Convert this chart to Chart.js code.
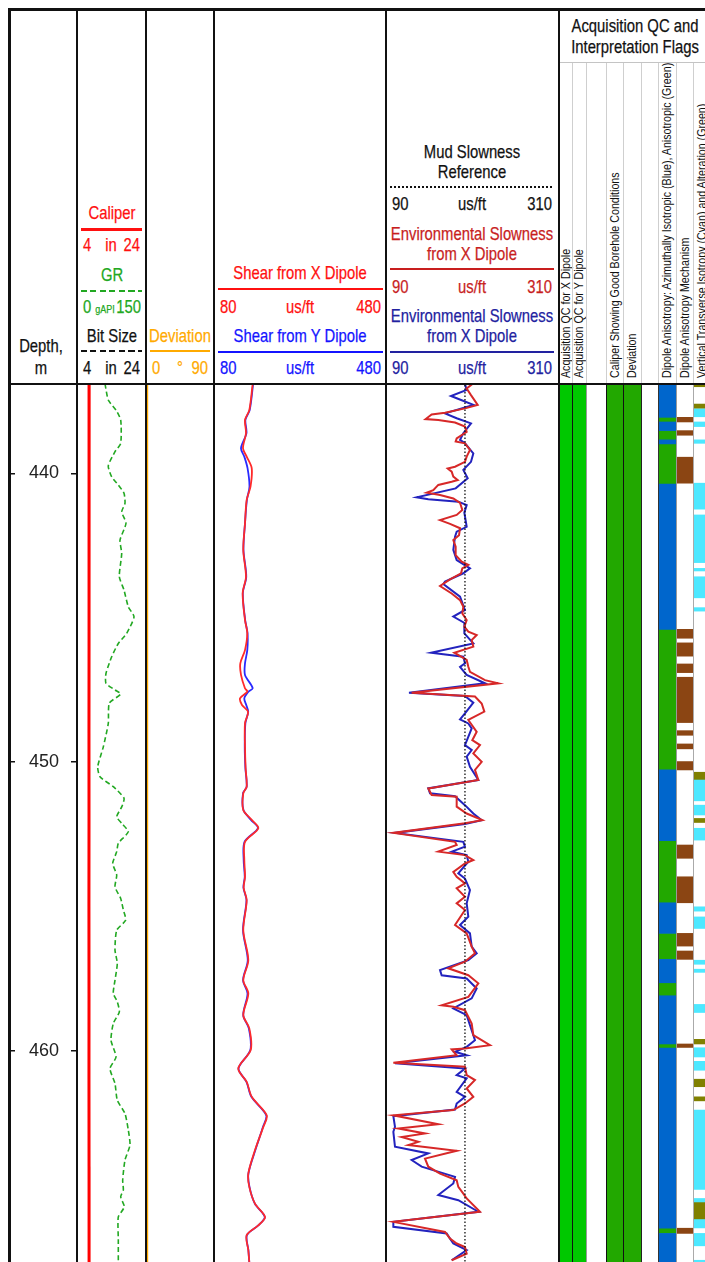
<!DOCTYPE html>
<html>
<head>
<meta charset="utf-8">
<script src="https://cdn.jsdelivr.net/npm/chart.js@4.4.1/dist/chart.umd.min.js"></script>
<style>
  html, body { margin: 0; padding: 0; background: #fff; overflow: hidden; }
  #page { position: absolute; left: 0; top: 0; width: 705px; height: 1262px; overflow: hidden;
          font-family: 'Liberation Sans', Arial, sans-serif; font-size: 19px; color: #111; }
  .t { position: absolute; white-space: nowrap; line-height: 20px; height: 20px; -webkit-text-stroke: 0.25px currentColor; }
  .b { position: absolute; }
  canvas { position: absolute; }
  #flagHead { position: absolute; left: 559px; top: 63px; width: 146px; height: 320px; overflow: hidden; }
  .rot { position: absolute; top: 315px; white-space: nowrap; font-size: 13px; line-height: 14px;
         color: #111; transform-origin: 0 0; transform: rotate(-90deg) scaleX(0.82) translateY(-50%); }
</style>
</head>
<body>
<div id="page"></div>
<script>
// ---------------- depth window and ticks ----------------
const depthTop = 436.94;
const depthBase = 467.31;
const depthTicks = [440, 450, 460];

// ---------------- caliper track ----------------
const caliperDepth = [436.94, 440, 443, 446, 449, 452, 455, 458, 461, 464, 467.31];
const caliperIn    = [7.52, 7.50, 7.48, 7.49, 7.47, 7.48, 7.46, 7.48, 7.47, 7.49, 7.50];
const bitSizeDepth = [436.94, 467.31];
const bitSizeIn    = [7.5, 7.5];
const grDepth = [436.90, 437.46, 437.81, 438.15, 438.96, 439.25, 439.74, 440.12, 440.40, 440.69,
                 441.04, 441.33, 441.73, 442.31, 442.77, 443.58, 444.04, 444.62, 444.97, 445.54,
                 445.89, 446.35, 446.93, 447.27, 447.50, 447.64, 447.96, 448.66, 449.47, 450.16,
                 450.51, 450.85, 451.25, 451.55, 451.89, 452.12, 452.41, 452.81, 453.10, 453.51,
                 453.91, 454.32, 454.72, 455.12, 455.47, 455.82, 456.51, 456.97, 457.55, 458.01,
                 458.30, 458.65, 459.05, 459.63, 460.21, 460.61, 461.13, 461.71, 462.17, 462.74,
                 463.26, 463.78, 464.48, 464.82, 465.05, 465.40, 465.75, 466.55, 467.31];
const grApi = [60.9, 68.0, 84.8, 95.0, 95.0, 82.6, 68.0, 75.4, 89.8, 102.2,
               104.3, 97.2, 106.5, 93.5, 97.2, 92.0, 102.2, 111.5, 123.9, 108.0,
               89.8, 75.4, 63.0, 63.0, 82.6, 95.0, 70.2, 68.0, 57.2, 45.0,
               50.0, 78.9, 102.2, 97.2, 86.3, 97.2, 111.5, 89.8, 86.3, 77.6,
               86.3, 82.6, 95.0, 100.7, 105.9, 86.3, 82.6, 87.6, 82.6, 78.9,
               87.6, 92.0, 78.9, 73.9, 84.8, 71.7, 82.6, 87.6, 104.3, 111.5,
               115.2, 104.3, 99.3, 100.7, 95.0, 102.8, 89.8, 89.8, 89.8];

// ---------------- deviation track ----------------
const deviationDepth = [436.94, 445, 455, 467.31];
const deviationDeg   = [1.5, 1.5, 1.6, 1.6];

// ---------------- shear slowness track ----------------
const shearDepth = [436.90, 437.81, 438.15, 438.61, 439.13, 439.42, 439.82, 440.46, 440.92, 441.73,
                    442.65, 443.58, 444.15, 445.08, 445.54, 446.12, 446.58, 446.98, 447.44, 447.56,
                    447.79, 448.02, 448.26, 448.65, 449.47, 450.20, 450.85, 451.08, 451.66, 452.00,
                    452.29, 452.76, 453.40, 453.97, 454.35, 454.78, 455.82, 456.86, 457.55, 458.01,
                    458.76, 459.22, 459.97, 460.61, 461.07, 461.59, 462.23, 462.63, 463.44, 464.25,
                    464.71, 465.29, 465.75, 466.04, 466.38, 466.90, 467.31];
const shearX = [170.0, 162.1, 152.1, 154.4, 147.4, 156.0, 167.7, 164.9, 156.0, 152.1,
                148.1, 154.4, 146.7, 152.1, 157.4, 152.1, 141.2, 142.8, 152.0, 157.4,
                140.5, 145.1, 159.1, 152.1, 152.1, 153.5, 156.0, 148.1, 148.1, 167.7,
                183.0, 152.1, 150.5, 152.1, 149.0, 156.0, 148.1, 159.8, 148.1, 159.8,
                148.1, 162.1, 165.3, 136.5, 156.0, 167.7, 202.6, 194.7, 175.3, 159.8,
                162.1, 175.3, 198.6, 183.0, 156.0, 159.8, 162.1];
const shearY = [171.0, 163.0, 153.0, 155.5, 142.8, 150.5, 158.0, 162.5, 156.5, 152.1,
                148.5, 155.0, 147.0, 152.5, 158.0, 157.4, 152.1, 152.1, 170.0, 160.0,
                150.5, 155.0, 159.5, 153.0, 151.5, 153.0, 156.0, 147.5, 148.5, 166.0,
                182.0, 151.0, 149.0, 151.5, 148.5, 155.5, 147.5, 158.5, 147.5, 158.0,
                148.0, 161.0, 164.5, 137.0, 155.5, 167.0, 201.5, 194.0, 176.0, 160.0,
                162.5, 175.0, 198.0, 183.0, 156.5, 160.0, 162.0];

// ---------------- environmental slowness track ----------------
const mudDepth = [436.94, 467.31];
const mudSlowness = [191, 191];
const envXDepth = [436.88, 437.06, 437.29, 437.63, 437.75, 437.90, 437.96, 438.12, 438.15, 438.24,
                   438.38, 438.56, 438.79, 438.90, 438.96, 439.19, 439.42, 439.60, 439.77, 439.83,
                   439.94, 440.11, 440.23, 440.29, 440.40, 440.58, 440.67, 440.75, 440.87, 441.02,
                   441.27, 441.44, 441.62, 441.75, 441.90, 442.14, 442.31, 442.54, 442.83, 443.06,
                   443.17, 443.29, 443.46, 443.67, 443.90, 444.16, 444.39, 444.62, 444.85, 445.08,
                   445.31, 445.48, 445.60, 445.77, 446.00, 446.21, 446.46, 446.70, 446.87, 447.16,
                   447.27, 447.60, 447.73, 447.97, 448.25, 448.54, 448.95, 449.24, 449.41, 449.70,
                   449.99, 450.27, 450.62, 450.91, 451.14, 451.20, 451.54, 451.78, 452.01, 452.12,
                   452.45, 452.76, 452.87, 453.10, 453.22, 453.39, 453.51, 453.80, 453.97, 454.20,
                   454.37, 454.66, 454.89, 455.12, 455.64, 455.93, 456.39, 456.62, 456.91, 457.14,
                   457.38, 457.66, 458.13, 458.42, 458.47, 458.59, 459.05, 459.45, 459.80, 459.92,
                   459.95, 460.15, 460.41, 460.55, 460.84, 461.01, 461.30, 461.59, 461.82, 462.05,
                   462.23, 462.54, 462.69, 462.86, 462.98, 463.15, 463.26, 463.46, 463.73, 464.01,
                   464.25, 464.48, 464.71, 464.94, 465.11, 465.57, 465.92, 466.27, 466.50, 466.67,
                   466.79, 467.02, 467.25];
const envX = [201.7, 193.2, 198.7, 207.3, 191.0, 165.5, 148.4, 140.7, 156.9, 178.3,
              191.0, 193.2, 180.4, 179.1, 191.0, 197.4, 193.2, 191.0, 178.3, 168.9,
              174.0, 176.1, 181.7, 174.0, 156.9, 150.5, 142.0, 159.1, 176.1, 184.7,
              187.6, 180.4, 159.1, 171.9, 184.7, 183.4, 176.1, 179.1, 179.1, 186.8,
              195.3, 187.6, 186.0, 171.9, 159.1, 174.0, 184.7, 188.9, 187.6, 193.2,
              190.2, 195.3, 206.0, 199.6, 201.7, 177.4, 193.2, 195.3, 197.4, 216.6,
              233.7, 122.8, 203.8, 212.4, 215.8, 195.3, 206.0, 200.4, 210.2, 201.7,
              212.4, 203.8, 208.1, 144.1, 148.4, 180.4, 180.4, 193.2, 213.2, 191.0,
              99.4, 178.3, 180.4, 156.9, 191.0, 201.7, 191.0, 176.1, 180.4, 191.0,
              180.4, 191.0, 180.4, 191.0, 178.3, 193.2, 199.6, 203.8, 191.0, 169.7,
              195.3, 208.1, 195.3, 161.2, 176.1, 191.0, 199.6, 201.7, 223.0, 191.0,
              174.0, 180.4, 99.4, 191.0, 193.2, 203.8, 193.2, 201.7, 191.0, 176.1,
              99.4, 156.9, 105.8, 139.9, 110.0, 131.4, 118.6, 180.4, 139.9, 144.1,
              159.1, 180.4, 182.5, 188.9, 193.2, 210.2, 99.4, 165.5, 171.9, 180.4,
              191.0, 193.2, 174.0];
const envYDepth = [436.90, 437.11, 437.32, 437.40, 437.63, 437.92, 438.09, 438.27, 438.61, 438.84,
                   438.96, 439.31, 439.60, 439.88, 440.17, 440.52, 440.83, 440.90, 440.98, 441.10,
                   441.36, 441.85, 442.02, 442.19, 442.65, 443.00, 443.29, 443.46, 443.75, 443.83,
                   444.27, 444.73, 444.96, 445.19, 445.54, 445.89, 446.21, 446.35, 446.58, 446.70,
                   446.98, 447.27, 447.60, 447.71, 447.94, 448.31, 448.52, 448.66, 448.83, 449.41,
                   449.58, 449.81, 450.16, 450.62, 450.91, 451.08, 451.18, 451.49, 451.78, 452.01,
                   452.14, 452.45, 452.76, 452.93, 453.10, 453.22, 453.45, 453.85, 454.03, 454.43,
                   454.89, 455.35, 455.64, 455.93, 456.39, 456.62, 456.86, 457.20, 457.38, 457.49,
                   457.84, 458.18, 458.53, 458.76, 459.11, 459.63, 459.86, 460.03, 460.15, 460.43,
                   460.61, 460.84, 460.95, 461.42, 461.59, 461.82, 462.03, 462.26, 462.63, 462.80,
                   463.32, 463.55, 463.78, 464.01, 464.36, 464.59, 464.99, 465.17, 465.57, 465.92,
                   466.09, 466.32, 466.50, 466.67, 466.90, 467.25];
const envY = [191.0, 193.2, 173.1, 180.4, 201.7, 165.5, 180.4, 198.7, 188.9, 184.7,
              191.0, 201.7, 198.7, 188.9, 194.5, 179.1, 129.2, 144.1, 182.5, 193.2,
              190.2, 193.2, 180.4, 178.3, 176.1, 180.4, 197.4, 188.9, 165.5, 163.3,
              184.7, 191.0, 176.1, 191.0, 190.2, 201.7, 147.6, 188.9, 191.0, 184.7,
              193.2, 216.6, 119.4, 191.0, 201.7, 191.0, 184.7, 195.3, 199.6, 191.0,
              199.6, 193.2, 197.4, 208.1, 144.1, 146.3, 178.3, 191.0, 201.7, 212.4,
              191.0, 101.5, 188.9, 191.0, 174.0, 193.2, 195.3, 182.5, 191.0, 197.4,
              193.2, 195.3, 184.7, 197.4, 199.6, 206.0, 195.3, 159.1, 161.2, 193.2,
              206.0, 199.6, 176.1, 193.2, 197.4, 203.8, 193.2, 178.3, 193.2, 101.5,
              191.0, 180.4, 193.2, 180.4, 191.0, 180.4, 178.3, 99.4, 101.5, 99.4,
              101.5, 144.1, 122.8, 135.6, 178.3, 176.1, 156.9, 182.5, 208.1, 99.4,
              99.4, 167.6, 171.9, 176.1, 193.2, 174.0];

// ---------------- QC and interpretation flags (depth intervals, m) ----------------
const qcXDipoleGood   = [[436.94, 467.31]];
const qcYDipoleGood   = [[436.94, 467.31]];
const caliperGoodHole = [[436.94, 467.31]];
const deviationGood   = [[436.94, 467.31]];
const dipoleIsotropic = [[436.94, 438.06], [438.22, 438.52], [438.84, 438.98], [440.37, 445.40],
                         [450.27, 452.72], [454.87, 455.93], [456.83, 457.64], [458.09, 459.76],
                         [459.90, 466.14], [466.32, 467.31]];
const dipoleAnisotropic = [[438.06, 438.22], [438.52, 438.84], [438.98, 440.37], [445.40, 450.27],
                           [452.72, 454.87], [455.93, 456.83], [457.64, 458.09], [459.76, 459.90],
                           [466.14, 466.32]];
const anisotropyMechanism = [[438.06, 438.22], [438.52, 438.68], [439.44, 440.34], [445.40, 445.71],
                             [445.87, 446.33], [446.60, 446.90], [447.06, 448.63], [448.91, 449.07],
                             [449.37, 449.54], [449.98, 450.27], [452.87, 453.33], [453.97, 454.87],
                             [455.93, 456.37], [456.54, 456.83], [459.76, 459.88], [466.14, 466.32]];
const vtiIsotropy = [[437.77, 438.04], [438.22, 438.38], [438.84, 438.96], [440.34, 441.24],
                     [441.44, 443.09], [443.29, 443.38], [443.58, 444.31], [444.65, 444.77],
                     [450.62, 451.34], [451.49, 451.83], [452.29, 452.70], [455.01, 455.16],
                     [455.36, 455.76], [456.86, 457.00], [457.17, 457.28], [458.39, 458.67],
                     [459.89, 460.21], [460.36, 460.67], [462.05, 464.80], [465.11, 465.23],
                     [465.84, 466.13], [466.32, 466.75], [467.25, 467.31]];
const vtiAlteration = [[436.94, 437.00], [437.60, 437.75], [450.35, 450.62], [451.95, 452.09],
                       [459.60, 459.76], [460.98, 461.24], [461.59, 461.73], [465.23, 465.84]];

const flagLabels = ['Acquisition QC for X Dipole', 'Acquisition QC for Y Dipole', '',
                    'Caliper Showing Good Borehole Conditions', 'Deviation', '',
                    'Dipole Anisotropy: Azimuthally Isotropic (Blue), Anisotropic (Green)',
                    'Dipole Anisotropy Mechanism',
                    'Vertical Transverse Isotropy (Cyan) and Alteration (Green)'];

// ---------------- layout ----------------
const FONT = "'Liberation Sans', Arial, sans-serif";
const NARROW = 0.78;           // horizontal squeeze giving the condensed header face
const BODY_TOP = 385, BODY_H = 877;
const FLAG_EDGES = [559, 572, 586, 606, 623, 641, 658, 676, 693, 711];
const page = document.getElementById('page');

function rect(left, top, width, height, bg) {
  const d = document.createElement('div');
  d.className = 'b';
  Object.assign(d.style, { left: left + 'px', top: top + 'px', width: width + 'px', height: height + 'px', background: bg });
  page.appendChild(d);
  return d;
}
function text(html, x, cy, color, align) {
  const d = document.createElement('div');
  d.className = 't';
  d.innerHTML = html;
  d.style.color = color || '#111';
  d.style.top = (cy - 10.5) + 'px';
  d.style.width = '300px';
  d.style.transform = `scaleX(${NARROW})`;
  if (align === 'left') {
    d.style.left = x + 'px'; d.style.textAlign = 'left'; d.style.transformOrigin = '0 50%';
  } else if (align === 'right') {
    d.style.left = (x - 300) + 'px'; d.style.textAlign = 'right'; d.style.transformOrigin = '100% 50%';
  } else {
    d.style.left = (x - 150) + 'px'; d.style.textAlign = 'center'; d.style.transformOrigin = '50% 50%';
  }
  page.appendChild(d);
}
function scaleRow(cy, color, loX, lo, unitX, unit, hiX, hi) {
  text(lo, loX, cy, color, 'left');
  text(unit, unitX, cy, color);
  text(hi, hiX, cy, color, 'right');
}
function dashed(left, top, width, color, on, off, h) {
  return rect(left, top, width, h || 2,
    `repeating-linear-gradient(to right, ${color} 0 ${on}px, transparent ${on}px ${on + off}px)`);
}

// ---------------- header ----------------
text('Depth,', 41, 346);
text('m', 41, 368.5);

text('Caliper', 111.5, 213.7, '#ff1010');
rect(81, 228, 61, 3, '#ff1010');
scaleRow(245.5, '#ff1010', 83, '4', 111.3, 'in', 140, '24');
text('GR', 111.5, 275.5, '#22a822');
dashed(81, 290, 61, '#22a822', 6, 3.5);
scaleRow(307.3, '#22a822', 83, '0', 105, '<span style="font-size:11.5px">gAPI</span>', 141, '150');
text('Bit Size', 111.5, 336.3);
dashed(81, 350, 61, '#111', 6, 3.5);
scaleRow(368.8, '#111', 83, '4', 111.3, 'in', 140, '24');

text('Deviation', 180, 336.3, '#ffaa00');
rect(150, 350, 60, 2, '#ffaa00');
scaleRow(368.8, '#ffaa00', 151.7, '0', 180, '°', 208.3, '90');

text('Shear from X Dipole', 300, 273.7, '#ff1010');
rect(218, 288, 165, 2, '#ff1010');
scaleRow(307.3, '#ff1010', 220, '80', 300, 'us/ft', 381, '480');
text('Shear from Y Dipole', 300, 336.3, '#1414ff');
rect(218, 351, 165, 2, '#1414ff');
scaleRow(368.8, '#1414ff', 220, '80', 300, 'us/ft', 381, '480');

text('Mud Slowness', 472, 152.7);
text('Reference', 472, 172.3);
dashed(390, 186, 164, '#111', 2, 2);
scaleRow(204, '#111', 391.7, '90', 471.7, 'us/ft', 551.7, '310');
text('Environmental Slowness', 472, 234, '#c81e1e');
text('from X Dipole', 472, 254, '#c81e1e');
rect(390, 268, 164, 2, '#c81e1e');
scaleRow(287.3, '#c81e1e', 391.7, '90', 471.7, 'us/ft', 551.7, '310');
text('Environmental Slowness', 472, 316.7, '#2222a0');
text('from X Dipole', 472, 336.7, '#2222a0');
rect(390, 351, 164, 2, '#2222a0');
scaleRow(368.8, '#2222a0', 391.7, '90', 471.7, 'us/ft', 551.7, '310');

text('Acquisition QC and', 634.5, 26.7);
text('Interpretation Flags', 634.5, 47.3);
rect(559, 62, 146, 1, '#c4c4c4');
const flagHead = document.createElement('div');
flagHead.id = 'flagHead';
page.appendChild(flagHead);
flagLabels.forEach((lab, i) => {
  if (!lab) return;
  const cx = (FLAG_EDGES[i] + FLAG_EDGES[i + 1]) / 2;
  const d = document.createElement('div');
  d.className = 'rot';
  d.textContent = lab;
  d.style.left = (cx - FLAG_EDGES[0]) + 'px';
  flagHead.appendChild(d);
});

// ---------------- charts ----------------
Chart.defaults.font.family = FONT;
const baseOptions = {
  responsive: false, animation: false, events: [],
  layout: { padding: 0 },
  plugins: { legend: { display: false }, tooltip: { enabled: false } }
};
function makeCanvas(left, width) {
  const c = document.createElement('canvas');
  c.width = width; c.height = BODY_H;
  Object.assign(c.style, { left: left + 'px', top: BODY_TOP + 'px', width: width + 'px', height: BODY_H + 'px' });
  page.appendChild(c);
  return c;
}
function depthScale(extra) {
  return Object.assign({ type: 'linear', reverse: true, min: depthTop, max: depthBase, display: false }, extra || {});
}
function valueScale(min, max) { return { type: 'linear', min: min, max: max, display: false }; }
function curve(depths, values, style) {
  return Object.assign({ data: depths.map((d, i) => ({ x: values[i], y: d })), showLine: true,
                         pointRadius: 0, fill: false }, style);
}
// datasets listed first are painted on top
function track(left, width, scales, datasets) {
  return new Chart(makeCanvas(left, width), {
    type: 'scatter',
    data: { datasets: datasets },
    options: Object.assign({}, baseOptions, { scales: Object.assign({ y: depthScale() }, scales) })
  });
}

// depth track: labels and edge ticks from the depth axis
new Chart(makeCanvas(9, 68), {
  type: 'scatter',
  data: { datasets: [] },
  options: Object.assign({}, baseOptions, {
    scales: {
      x: valueScale(0, 1),
      y: depthScale({
        display: true, position: 'left',
        afterBuildTicks: s => { s.ticks = depthTicks.map(v => ({ value: v })); },
        afterFit: s => { s.width = 0; s.paddingTop = 0; s.paddingBottom = 0; },
        grid: { color: '#111', lineWidth: 1.5, drawTicks: false },
        border: { display: false, dash: [6, 56] },
        ticks: { mirror: true, padding: 20, color: '#222', font: { family: FONT, size: 18 } }
      })
    }
  })
});

// caliper, gamma ray and bit size
track(77, 69, { x: valueScale(4, 24), xGR: valueScale(0, 150) }, [
  curve(caliperDepth, caliperIn, { borderColor: '#ff0000', borderWidth: 3 }),
  curve(grDepth, grApi, { xAxisID: 'xGR', borderColor: '#22a822', borderWidth: 1.6, borderDash: [5, 3], tension: 0.2 }),
  curve(bitSizeDepth, bitSizeIn, { borderColor: '#111', borderWidth: 1, borderDash: [6, 3] })
]);

// deviation
track(146, 68, { x: valueScale(0, 90) }, [
  curve(deviationDepth, deviationDeg, { borderColor: '#ffaa00', borderWidth: 2 })
]);

// shear slowness
track(214, 172, { x: valueScale(80, 480) }, [
  curve(shearDepth, shearX, { borderColor: '#ff2a2a', borderWidth: 1.8, tension: 0.3 }),
  curve(shearDepth, shearY, { borderColor: '#2a2aff', borderWidth: 1.8, tension: 0.3 })
]);

// environmental slowness with mud reference
track(386, 172, { x: valueScale(90, 310) }, [
  curve(mudDepth, mudSlowness, { borderColor: '#111', borderWidth: 1.3, borderDash: [1.5, 2] }),
  curve(envXDepth, envX, { borderColor: '#d72828', borderWidth: 2 }),
  curve(envYDepth, envY, { borderColor: '#2323be', borderWidth: 2 })
]);

// flag columns drawn as floating bars over depth
function flagColumn(col, layers) {
  const left = FLAG_EDGES[col], width = FLAG_EDGES[col + 1] - left;
  new Chart(makeCanvas(left, width), {
    type: 'bar',
    data: {
      labels: ['flag'],
      datasets: layers.map(([intervals, color]) => ({
        data: intervals.map(([a, b]) => ({ x: 'flag', y: [a, b] })),
        backgroundColor: color, borderWidth: 0, barPercentage: 1, categoryPercentage: 1
      }))
    },
    options: Object.assign({}, baseOptions, {
      scales: { x: { type: 'category', stacked: true, display: false }, y: depthScale() }
    })
  });
}
flagColumn(0, [[qcXDipoleGood, '#00c800']]);
flagColumn(1, [[qcYDipoleGood, '#00c800']]);
flagColumn(3, [[caliperGoodHole, '#22a800']]);
flagColumn(4, [[deviationGood, '#22a800']]);
flagColumn(6, [[dipoleIsotropic, '#0066cc'], [dipoleAnisotropic, '#22a800']]);
flagColumn(7, [[anisotropyMechanism, '#8b4513']]);
flagColumn(8, [[vtiIsotropy, '#4de8ff'], [vtiAlteration, '#808000']]);

// ---------------- frame and dividers ----------------
const bodySep = ['#111', '#999', '#111', '#111', '#222', '#333', '#999', '#aaa'];
for (let i = 1; i <= 8; i++) {
  rect(FLAG_EDGES[i], 63, 1, 320, '#cfcfcf');
  rect(FLAG_EDGES[i], 385, 1, 877, bodySep[i - 1]);
}
rect(8, 8, 697, 3, '#111');
rect(8, 8, 3, 1254, '#111');
rect(8, 383, 697, 2, '#111');
[76, 145, 213, 385, 558].forEach(x => rect(x, 9, 2, 1253, '#111'));
</script>
</body>
</html>
